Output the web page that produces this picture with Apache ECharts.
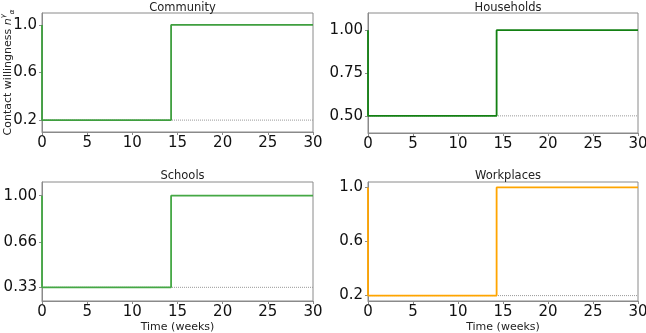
<!DOCTYPE html>
<html>
<head>
<meta charset="utf-8">
<script src="https://cdn.jsdelivr.net/npm/echarts@6/dist/echarts.min.js"></script>
<style>
  html, body { margin: 0; padding: 0; background: #fff; }
  #main { width: 646px; height: 333px; }
</style>
</head>
<body>
<div id="main"></div>
<script>
// contact willingness per setting, step change at ~14.3 weeks
const panelTitles = ['Community', 'Households', 'Schools', 'Workplaces']
const stepTimes = [0, 0, 14.29, 14.29, 30]
const communityValues = [1, 0.2, 0.2, 1, 1]
const householdValues = [1, 0.5, 0.5, 1, 1]
const schoolValues = [1, 0.33, 0.33, 1, 1]
const workplaceValues = [1, 0.2, 0.2, 1, 1]
const baselineTimes = [0, 30]
const baselineLevels = [0.2, 0.5, 0.33, 0.2]
const communityTicks = [0.2, 0.6, 1.0]
const communityTickLabels = ['0.2', '0.6', '1.0']
const householdTicks = [0.5, 0.75, 1.0]
const householdTickLabels = ['0.50', '0.75', '1.00']
const schoolTicks = [0.33, 0.66, 1.0]
const schoolTickLabels = ['0.33', '0.66', '1.00']
const workplaceTicks = [0.2, 0.6, 1.0]
const workplaceTickLabels = ['0.2', '0.6', '1.0']

const seriesValues = [communityValues, householdValues, schoolValues, workplaceValues]
const yTicks = [communityTicks, householdTicks, schoolTicks, workplaceTicks]
const yTickLabels = [communityTickLabels, householdTickLabels, schoolTickLabels, workplaceTickLabels]
const yRanges = [[0.1, 1.1], [0.4, 1.1], [0.23, 1.1], [0.16, 1.04]]
const lineColors = ['#3f9f3f', '#138013', '#45a845', '#ffa500']

const font = 'DejaVu Sans'
const spine = '#8a8a8a'

const grids = [
  { left: 42, top: 13, width: 271, height: 119 },
  { left: 368, top: 13, width: 270, height: 120 },
  { left: 42, top: 182, width: 271, height: 119 },
  { left: 368, top: 182, width: 270, height: 119 }
]

var chart = echarts.init(document.getElementById('main'), null, { renderer: 'canvas' })

var titles = grids.map((g, i) => ({
  text: panelTitles[i],
  left: g.left + g.width / 2,
  top: i < 2 ? -3 : 165,
  textAlign: 'center',
  textStyle: { fontFamily: font, fontSize: 11.5, fontWeight: 'normal', color: '#222' }
}))

var xAxes = grids.map((g, i) => ({
  type: 'value',
  gridIndex: i,
  min: 0,
  max: 30,
  interval: 5,
  name: i >= 2 ? 'Time (weeks)' : '',
  nameLocation: 'middle',
  nameGap: 21,
  nameMoveOverlap: false,
  nameTextStyle: { fontFamily: font, fontSize: 11, color: '#222' },
  axisLine: { show: true, lineStyle: { color: spine, width: 1 } },
  axisTick: { show: true, length: 3, lineStyle: { color: spine } },
  axisLabel: { fontFamily: font, fontSize: 15, color: '#111', margin: 4 },
  splitLine: { show: false }
}))

var yAxes = grids.map((g, i) => ({
  type: 'value',
  gridIndex: i,
  min: yRanges[i][0],
  max: yRanges[i][1],
  name: i === 0 ? '{t|Contact willingness }{n|n}{s|γ}{b|α}' : '',
  nameLocation: 'middle',
  nameRotate: 90,
  nameGap: 26,
  nameMoveOverlap: false,
  nameTextStyle: {
    fontFamily: font,
    color: '#222',
    rich: {
      t: { fontFamily: font, fontSize: 11, color: '#222', lineHeight: 16 },
      n: { fontFamily: font, fontSize: 11, fontStyle: 'italic', color: '#222', lineHeight: 16 },
      s: { fontFamily: font, fontSize: 7, fontStyle: 'italic', color: '#222', verticalAlign: 'top', lineHeight: 8 },
      b: { fontFamily: font, fontSize: 7, fontStyle: 'italic', color: '#222', verticalAlign: 'bottom', lineHeight: 8 }
    }
  },
  axisLine: { show: true, lineStyle: { color: spine, width: 1 } },
  axisTick: { show: true, length: 3, customValues: yTicks[i], lineStyle: { color: spine } },
  axisLabel: {
    fontFamily: font,
    fontSize: 15,
    color: '#111',
    margin: 5,
    customValues: yTicks[i],
    formatter: function (v) {
      let k = yTicks[i].indexOf(v)
      return k >= 0 ? yTickLabels[i][k] : ''
    }
  },
  splitLine: { show: false }
}))

var series = []
grids.forEach((g, i) => {
  series.push({
    type: 'line',
    xAxisIndex: i,
    yAxisIndex: i,
    symbol: 'none',
    silent: true,
    z: 2,
    lineStyle: { color: '#9a9a9a', width: 1, type: 'dotted' },
    data: baselineTimes.map(t => [t, baselineLevels[i]])
  })
  series.push({
    type: 'line',
    xAxisIndex: i,
    yAxisIndex: i,
    symbol: 'none',
    silent: true,
    z: 3,
    lineStyle: { color: lineColors[i], width: 1.8 },
    data: stepTimes.map((t, k) => [t, seriesValues[i][k]])
  })
})

var option = {
  animation: false,
  backgroundColor: '#fff',
  title: titles,
  grid: grids.map(g => Object.assign({ show: true, borderColor: spine, borderWidth: 1, containLabel: false, outerBoundsMode: 'none' }, g)),
  xAxis: xAxes,
  yAxis: yAxes,
  series: series
}
chart.setOption(option)
</script>
</body>
</html>
